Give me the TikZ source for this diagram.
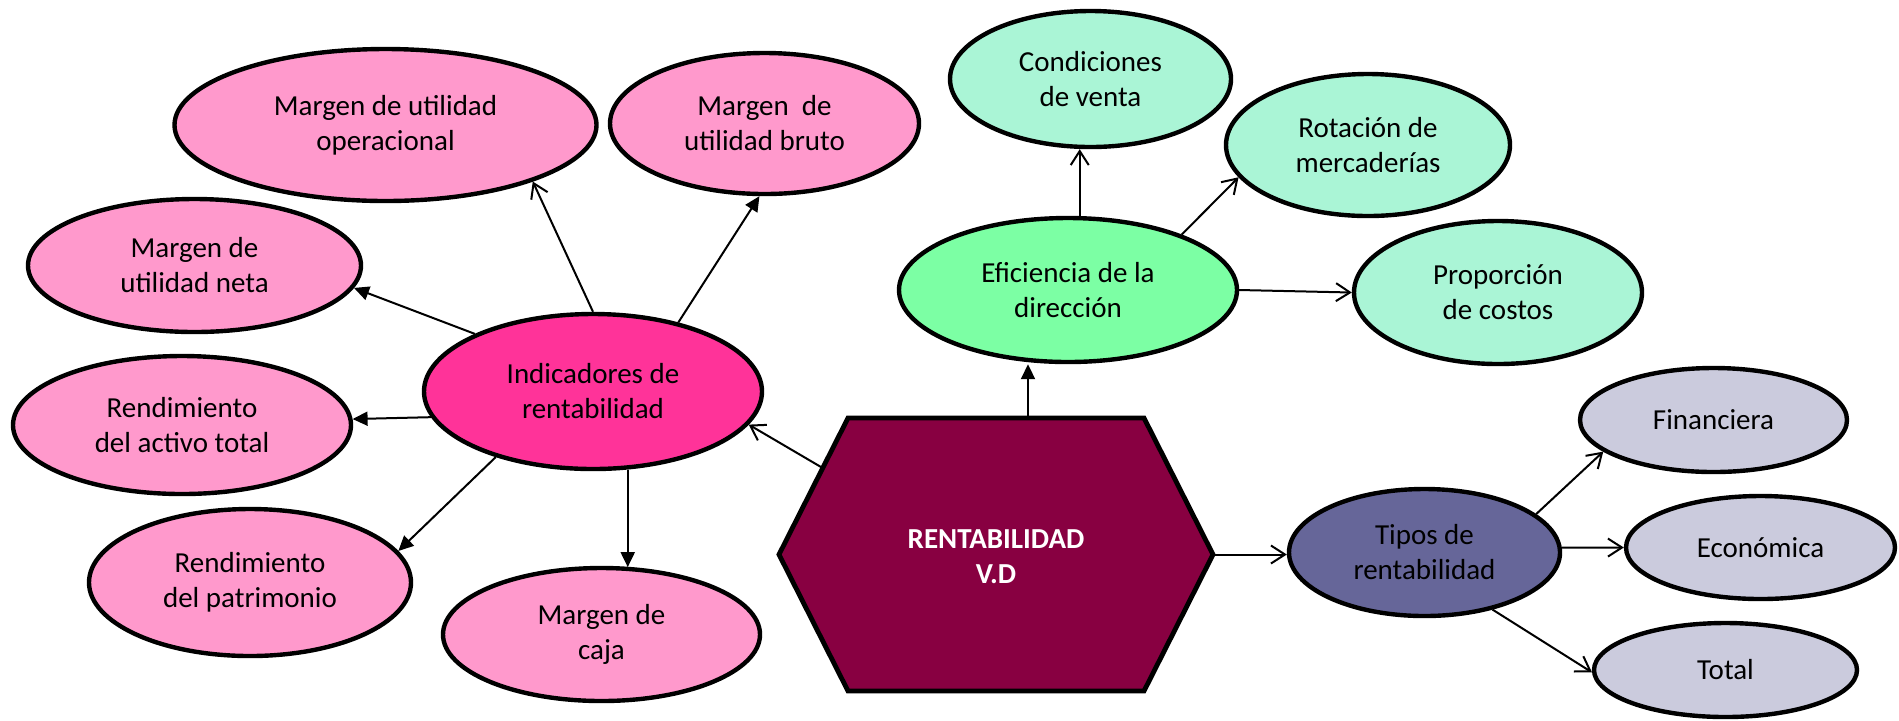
\documentclass[tikz,border=0pt]{standalone}
\usepackage{fontspec}
\setmainfont{Carlito}
\usetikzlibrary{arrows.meta,shapes.geometric}
\definecolor{pinkL}{HTML}{FF99CC}
\definecolor{pinkD}{HTML}{FF3399}
\definecolor{hexC}{HTML}{880041}
\definecolor{greenD}{HTML}{7CFFA4}
\definecolor{greenL}{HTML}{AAF5D6}
\definecolor{violD}{HTML}{666699}
\definecolor{violL}{HTML}{CBCBDD}
\tikzset{
  bub/.style={ellipse, draw=black, line width=2.2pt, inner sep=0pt, align=center,
    font=\fontsize{14.5}{17.5}\selectfont},
  sz/.style 2 args={minimum width=#1, minimum height=#2},
  opentip/.style={line width=1pt, -{Straight Barb[length=7pt,width=9pt]}},
  filltip/.style={line width=1pt, -{Triangle[length=7.5pt,width=7pt]}},
  hexshape/.style={fill=hexC, draw=black, line width=2.4pt, line join=miter},
  hextext/.style={align=center, text=white, inner sep=0pt,
    font=\fontsize{14.5}{17.5}\selectfont\bfseries}
}
\begin{document}
\begin{tikzpicture}[x=0.5pt,y=-0.5pt]
\useasboundingbox (0,0) rectangle (1899,720);
% left cluster
\node[bub, fill=pinkL, sz={211pt}{76pt}] (oper) at (385.5,125) {Margen de utilidad\\operacional};
\node[bub, fill=pinkL, sz={154.5pt}{70.5pt}] (bruto) at (764.5,123.5) {Margen\ \ de\\utilidad bruto};
\node[bub, fill=pinkL, sz={166.5pt}{66.5pt}] (neta) at (194.5,265.5) {Margen de\\utilidad neta};
\node[bub, fill=pinkL, sz={169pt}{69pt}] (activo) at (182,425) {Rendimiento\\del activo total};
\node[bub, fill=pinkL, sz={161pt}{73.5pt}] (patr) at (250,582.5) {Rendimiento\\del patrimonio};
\node[bub, fill=pinkL, sz={158.5pt}{66.5pt}] (caja) at (601.5,634.5) {Margen de\\caja};
\node[bub, fill=pinkD, sz={169pt}{77.5pt}] (ind) at (593,391.5) {Indicadores de\\rentabilidad};
% top right cluster
\node[bub, fill=greenL, sz={140.5pt}{68pt}] (cond) at (1090.5,79) {Condiciones\\de venta};
\node[bub, fill=greenL, sz={142pt}{71pt}] (rot) at (1368,145) {Rotación de\\mercaderías};
\node[bub, fill=greenD, sz={169pt}{72pt}] (eff) at (1068,290) {Eficiencia de la\\dirección};
\node[bub, fill=greenL, sz={144pt}{71.5pt}] (prop) at (1498,292.5) {Proporción\\de costos};
% bottom right cluster
\node[bub, fill=violD, sz={135.5pt}{63.5pt}] (tipos) at (1424.5,552.5) {Tipos de\\rentabilidad};
\node[bub, fill=violL, sz={133.5pt}{52pt}] (fin) at (1713.5,420) {Financiera};
\node[bub, fill=violL, sz={134.5pt}{51.5pt}] (eco) at (1760.5,547.5) {Económica};
\node[bub, fill=violL, sz={131.5pt}{47pt}] (tot) at (1725.5,670) {Total};
% hexagon
\coordinate (hL) at (779,554.5);
\coordinate (hTL) at (848,418);
\coordinate (hTR) at (1144,418);
\coordinate (hR) at (1213,554.5);
\coordinate (hBR) at (1144,691);
\coordinate (hBL) at (848,691);
\coordinate (hA) at (822.7,468);
\coordinate (hT) at (1028,418);
\draw[hexshape] (hL) -- (hTL) -- (hTR) -- (hR) -- (hBR) -- (hBL) -- cycle;
\node[hextext] (hex) at (996,557) {RENTABILIDAD\\V.D};
% connectors from indicadores
\draw[opentip] (ind.90) -- (oper.339.1);
\draw[filltip] (ind.39.3) -- (bruto.266.5);
\draw[filltip] (ind.154.9) -- (neta.352.4);
\draw[filltip] (ind.189.5) -- (activo.2);
\draw[filltip] (ind.214.6) -- (patr.12.2);
\draw[filltip] (ind.294.7) -- (ind.294.7 |- caja.65.1);
% connectors from hexagon
\draw[opentip] (hA) -- (ind.348.8);
\draw[filltip] (hT) -- (hT |- eff.south);
\draw[opentip] (hR) -- (hR -| tipos.west);
% eficiencia
\draw[opentip] (eff.81.7) -- (eff.81.7 |- cond.south);
\draw[opentip] (eff.26.6) -- (rot.194.6);
\draw[opentip] (eff.0) -- (prop.180);
% tipos
\draw[opentip] (tipos.19.5) -- (fin.196.4);
\draw[opentip] (tipos.2) -- (eco.180);
\draw[opentip] (tipos.320.6) -- (tot.181);
\end{tikzpicture}
\end{document}
